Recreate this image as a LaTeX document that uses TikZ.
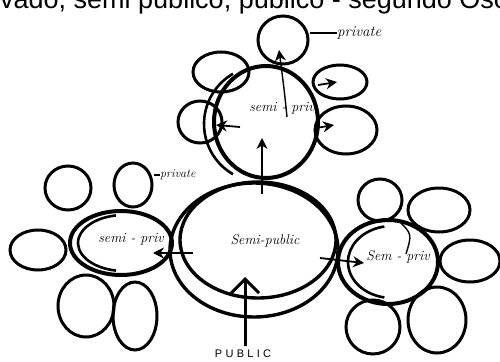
\documentclass[tikz,border=0pt]{standalone}
\usepackage{fontspec}
\newfontfamily\capfont{Liberation Sans}
\newfontfamily\pubfont[LetterSpace=30]{Liberation Sans}
\usetikzlibrary{shapes.geometric,arrows.meta}
\begin{document}
\begin{tikzpicture}[x=1pt,y=-1pt,
  petal/.style={ellipse,draw,line width=3pt,inner sep=0pt},
  semipriv/.style={ellipse,draw,line width=4pt,inner sep=0pt},
  ring/.style={line width=2.6pt},
  hand/.style={inner sep=0pt,font=\fontsize{14}{14}\selectfont\itshape},
  handsmall/.style={inner sep=0pt,font=\fontsize{12}{12}\selectfont\itshape},
  arr/.style={line width=1.8pt,-{Stealth[length=11pt,width=11pt]}},
  bigarr/.style={line width=3pt,-{Straight Barb[length=14pt,width=28pt,line width=3pt]}},
  thin/.style={line width=1.4pt}
]
\clip (0,0) rectangle (500,361);
\fill[white] (0,0) rectangle (500,361);

% caption (cut off at the top, as in the reference)
\node[anchor=base west,inner sep=0pt,font=\capfont\fontsize{27}{27}\selectfont] (cap) at (0,9) {vado, semi público, público - segundo Osc};

% central semi-public
\node[ellipse,draw,line width=3.4pt,inner sep=0pt,minimum width=168pt,minimum height=134pt] (spo) at (254,250) {};
\node[ellipse,draw,line width=3.4pt,inner sep=0pt,minimum width=156pt,minimum height=116pt] (sp) at (258,240) {};
\node[hand] (splab) at (265,241) {Semi-public};

% top semi-private
\node[semipriv,minimum width=104pt,minimum height=112pt] (tsp) at (266,122) {};
\draw[ring] (262,124) ++(120:58 and 58) arc[start angle=120,end angle=240,x radius=58,y radius=58];
\node[hand] (tsplab) at (282,108) {semi - priv};
\node[petal,minimum width=50pt,minimum height=48pt] (tp) at (283,40) {};
\node[petal,minimum width=56pt,minimum height=40pt] (tul) at (221,72) {};
\node[petal,minimum width=44pt,minimum height=42pt] (tl) at (200,122) {};
\node[petal,minimum width=54pt,minimum height=34pt] (tur) at (340,82) {};
\node[petal,minimum width=62pt,minimum height=48pt] (tlr) at (346,130) {};
\node[hand,anchor=west,font=\fontsize{15}{15}\selectfont\itshape] (pv1) at (337,33) {private};
\draw[line width=1.6pt] (tp.east |- pv1.west) -- (pv1.west);

% left semi-private
\node[semipriv,minimum width=102pt,minimum height=64pt] (lsp) at (121,243) {};
\draw[ring] (124,243) ++(100:46 and 28) arc[start angle=100,end angle=260,x radius=46,y radius=28];
\node[hand] (lsplab) at (131,239) {semi - priv};
\node[petal,minimum width=46pt,minimum height=44pt] (lul) at (68,188) {};
\node[petal,minimum width=38pt,minimum height=44pt] (lu) at (133,185) {};
\node[petal,minimum width=56pt,minimum height=40pt] (ll) at (38,250) {};
\node[petal,minimum width=56pt,minimum height=62pt] (lll) at (86,306) {};
\node[petal,minimum width=44pt,minimum height=68pt] (llo) at (135,316) {};
\node[handsmall,anchor=west] (pv2) at (160,175) {private};
\draw[line width=1.4pt] (lu.east |- pv2.west) -- (pv2.west);

% right semi-private
\node[semipriv,minimum width=100pt,minimum height=84pt] (rsp) at (388,262) {};
\draw[ring] (392,262) ++(100:44 and 36) arc[start angle=100,end angle=260,x radius=44,y radius=36];
\node[hand] (rsplab) at (398,257) {Sem - priv};
\node[petal,minimum width=44pt,minimum height=42pt] (rt) at (380,200) {};
\node[petal,minimum width=62pt,minimum height=44pt] (rur) at (439,210) {};
\node[petal,minimum width=60pt,minimum height=42pt] (rr) at (470,261) {};
\node[petal,minimum width=58pt,minimum height=66pt] (rlr) at (437,320) {};
\node[petal,minimum width=54pt,minimum height=54pt] (rll) at (373,327) {};

% arrows
\coordinate (c1) at (262,194);
\coordinate (c2) at (262,138);
\draw[arr] (c1) -- (c2);
\coordinate (c3) at (287,117);
\coordinate (c4) at (279,50);
\draw[arr,line width=1.4pt] (c3) .. controls (284,88) .. (c4);
\coordinate (c5) at (240,127);
\coordinate (c6) at (216,125);
\draw[arr] (c5) -- (c6);
\coordinate (c7) at (318,85);
\coordinate (c8) at (337,82);
\draw[arr] (c7) -- (c8);
\coordinate (c9) at (316,128);
\coordinate (c10) at (334,125);
\draw[arr] (c9) -- (c10);
\coordinate (c11) at (193,253);
\coordinate (c12) at (153,253);
\draw[arr] (c11) -- (c12);
\coordinate (c13) at (320,258);
\coordinate (c14) at (364,263);
\draw[arr] (c13) -- (c14);
\coordinate (c15) at (399,221);
\coordinate (c16) at (406,254);
\draw[thin] (c15) .. controls (412,234) .. (c16);

% public
\node[inner sep=1.5pt,anchor=base,font=\pubfont\fontsize{11}{11}\selectfont] (public) at (243,357.5) {PUBLIC};
\coordinate (pubtip) at (245,277);
\draw[bigarr] (public.north) ++(2,-2) -- (pubtip);
\end{tikzpicture}
\end{document}
